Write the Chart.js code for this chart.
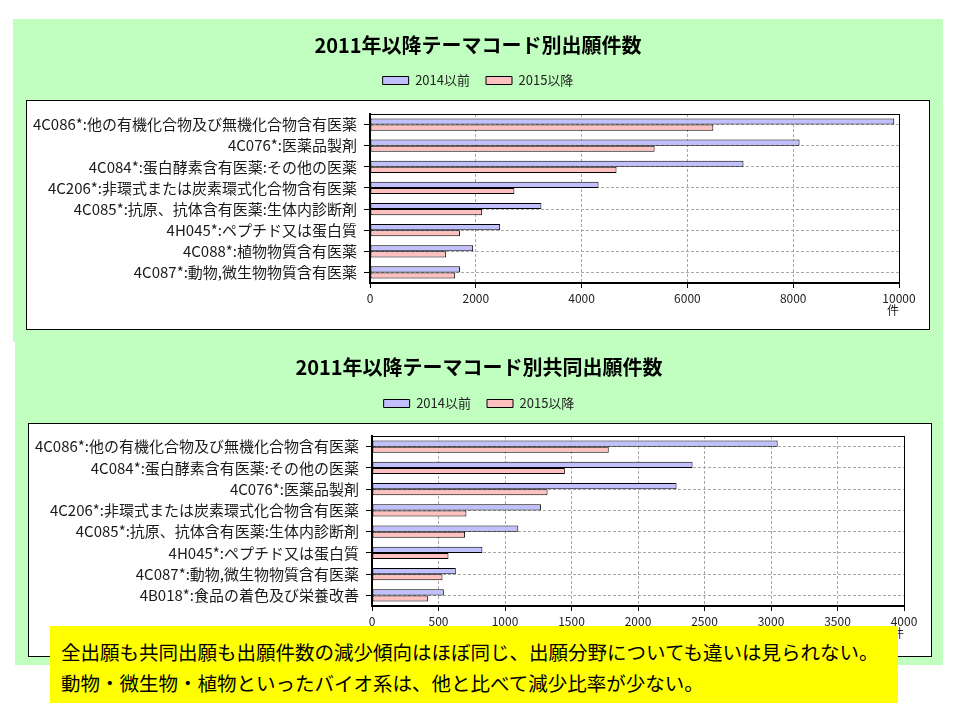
<!DOCTYPE html>
<html>
<head>
<meta charset="utf-8">
<script src="https://cdn.jsdelivr.net/npm/chart.js@4.4.1/dist/chart.umd.min.js"></script>
<style>
body { margin: 0; width: 960px; height: 720px; position: relative; overflow: hidden; background: #fff;
       font-family: "Noto Sans CJK JP", "Noto Sans", sans-serif; }
.panel { position: absolute; background: #c0ffc0; }
.frame { position: absolute; background: #fff; border: 1px solid #000; box-sizing: border-box; }
canvas { position: absolute; }
.note { position: absolute; left: 50px; top: 626px; width: 848px; height: 77px; box-sizing: border-box;
        background: #ffff00; padding: 10px 0 0 11px; font-size: 19.5px; line-height: 31px; color: #000; }
</style>
</head>
<body>
<div class="panel" style="left:13px;top:19px;width:930px;height:323px"></div>
<div class="panel" style="left:15px;top:342px;width:928px;height:323px"></div>
<div class="frame" style="left:26px;top:100px;width:904px;height:230px"></div>
<div class="frame" style="left:28px;top:423px;width:904px;height:234px"></div>
<canvas id="allChart" width="930" height="323" style="left:13px;top:19px"></canvas>
<canvas id="jointChart" width="928" height="323" style="left:15px;top:342px"></canvas>
<div class="note">全出願も共同出願も出願件数の減少傾向はほぼ同じ、出願分野についても違いは見られない。<br>動物・微生物・植物といったバイオ系は、他と比べて減少比率が少ない。</div>

<script>
const seriesNames = ['2014以前', '2015以降']

const allTitle = '2011年以降テーマコード別出願件数'
const allCodes = [
    '4C086*:他の有機化合物及び無機化合物含有医薬',
    '4C076*:医薬品製剤',
    '4C084*:蛋白酵素含有医薬:その他の医薬',
    '4C206*:非環式または炭素環式化合物含有医薬',
    '4C085*:抗原、抗体含有医薬:生体内診断剤',
    '4H045*:ペプチド又は蛋白質',
    '4C088*:植物物質含有医薬',
    '4C087*:動物,微生物物質含有医薬'
]
const allBefore = [9910, 8120, 7060, 4320, 3240, 2460, 1950, 1700]
const allAfter = [6490, 5380, 4660, 2730, 2120, 1700, 1440, 1610]

const jointTitle = '2011年以降テーマコード別共同出願件数'
const jointCodes = [
    '4C086*:他の有機化合物及び無機化合物含有医薬',
    '4C084*:蛋白酵素含有医薬:その他の医薬',
    '4C076*:医薬品製剤',
    '4C206*:非環式または炭素環式化合物含有医薬',
    '4C085*:抗原、抗体含有医薬:生体内診断剤',
    '4H045*:ペプチド又は蛋白質',
    '4C087*:動物,微生物物質含有医薬',
    '4B018*:食品の着色及び栄養改善'
]
const jointBefore = [3050, 2410, 2290, 1270, 1100, 830, 630, 540]
const jointAfter = [1780, 1450, 1320, 710, 700, 575, 530, 420]

const unitLabel = '件'

Chart.defaults.font.family = '"Noto Sans CJK JP", "Noto Sans", sans-serif'
Chart.defaults.color = '#222'

// thin black line round the plot area (top/right sides)
const plotFrame = {
    id: 'plotFrame',
    beforeDatasetsDraw(chart) {
        const {ctx, chartArea: a} = chart
        ctx.save()
        ctx.strokeStyle = '#000'
        ctx.lineWidth = 1
        ctx.strokeRect(Math.round(a.left) + 0.5, Math.round(a.top) + 0.5, Math.round(a.width), Math.round(a.height))
        ctx.restore()
    }
}

function drawChart(id, opts) {
    const bar = {borderColor: '#000', borderWidth: 1, borderSkipped: false, categoryPercentage: 0.58, barPercentage: 1.0}
    return new Chart(document.getElementById(id), {
        type: 'bar',
        data: {
            labels: opts.labels,
            datasets: [
                {...bar, label: seriesNames[0], data: opts.before, backgroundColor: '#c0c0ff'},
                {...bar, label: seriesNames[1], data: opts.after, backgroundColor: '#ffc0c0'}
            ]
        },
        plugins: [plotFrame],
        options: {
            indexAxis: 'y',
            responsive: false,
            animation: false,
            plugins: {
                title: {
                    display: true, text: opts.title, color: '#000',
                    font: {size: 20, weight: 'bold'},
                    padding: {top: opts.titleTop, bottom: opts.titleBottom}
                },
                // empty spacer between legend and plot
                subtitle: {display: true, text: '', weight: 500, font: {size: 10}, padding: {top: 0, bottom: opts.gap}},
                legend: {
                    labels: {boxWidth: 26, boxHeight: 8, padding: 16, font: {size: 13}, color: '#222'}
                },
                tooltip: {enabled: false}
            },
            scales: {
                x: {
                    min: 0, max: opts.max,
                    ticks: {stepSize: opts.step, padding: 3, font: {size: 12}, color: '#222', format: {useGrouping: false}},
                    grid: {color: '#a8a8a8', tickColor: '#000', tickLength: 5},
                    border: {color: '#000', width: 2, dash: [3, 2]},
                    title: {display: true, text: unitLabel, align: 'end', font: {size: 12}, color: '#222', padding: {top: 0, bottom: 24}},
                    // fixed axis height, and room on the right of the plot
                    afterFit(s) { s.height = 59; s.paddingRight = opts.padRight }
                },
                y: {
                    ticks: {padding: 7, font: {size: 15}, color: '#1a1a1a'},
                    grid: {offset: false, color: '#a8a8a8', tickColor: '#000', tickLength: 6},
                    border: {color: '#000', width: 2, dash: [3, 2]},
                    afterFit(s) { s.width = 357 }
                }
            }
        }
    })
}

drawChart('allChart', {
    title: allTitle, labels: allCodes, before: allBefore, after: allAfter,
    max: 10000, step: 2000, padRight: 44, titleTop: 14, titleBottom: 1, gap: 5
})
drawChart('jointChart', {
    title: jointTitle, labels: jointCodes, before: jointBefore, after: jointAfter,
    max: 4000, step: 500, padRight: 39, titleTop: 13, titleBottom: 2, gap: 4
})
</script>
</body>
</html>
